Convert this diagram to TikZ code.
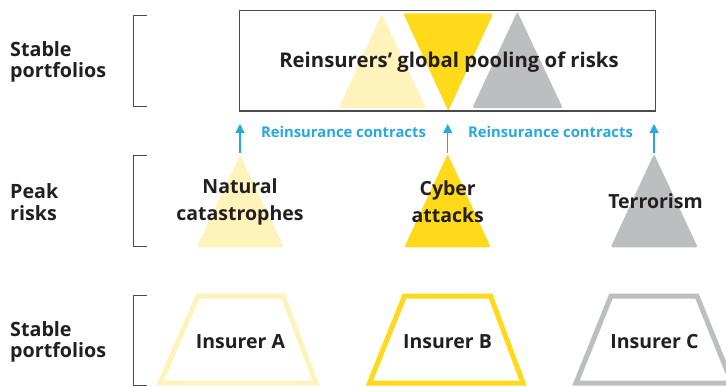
\documentclass[tikz,border=0pt]{standalone}
\usepackage{fontspec}
\setmainfont{Open Sans}
\usetikzlibrary{arrows.meta}
\definecolor{lyel}{HTML}{FFF3BC}
\definecolor{yel}{HTML}{FFDA1A}
\definecolor{gry}{HTML}{BDBEC0}
\definecolor{blu}{HTML}{29A8E0}
\definecolor{txt}{HTML}{231F20}
\definecolor{brk}{HTML}{4A4A4A}
\tikzset{
  lbl/.style={font=\fontsize{19.7}{21.6}\selectfont\bfseries, text=txt, align=left, anchor=west, inner sep=0pt},
  risk/.style={font=\fontsize{19.5}{26.7}\selectfont\bfseries, text=txt, align=center, inner sep=0pt},
  bluelbl/.style={font=\fontsize{14.8}{16}\selectfont\bfseries, text=blu, inner sep=0pt},
  bracket/.style={draw=brk, line width=1pt},
  tri/.style={rounded corners=2pt},
  trap/.style={line width=5pt, line join=miter, fill=white},
  arr/.style={draw=blu, line width=1.2pt, -{Triangle[width=9pt,length=9pt]}},
}
\begin{document}
\begin{tikzpicture}[x=1pt,y=-1pt]
\useasboundingbox (0,0) rectangle (726,386);
\fill[white] (0,0) rectangle (726,386);

% left labels
\node[lbl] (l1) at (10,62) {Stable\\portfolios};
\node[lbl] (l2) at (10,202) {Peak\\risks};
\node[lbl] (l3) at (10,342) {Stable\\portfolios};

% brackets
\draw[bracket] (146.7,15.7) -- (133.3,15.7) -- (133.3,106) -- (146.7,106);
\draw[bracket] (146.7,155.7) -- (133.3,155.7) -- (133.3,246) -- (146.7,246);
\draw[bracket] (146.7,295.5) -- (133.3,295.5) -- (133.3,385) -- (146.7,385);

% top box
\fill[white] (239.3,10.7) rectangle (655.7,111);
\fill[lyel, tri] (381.7,14) -- (426,108) -- (339,108) -- cycle;
\fill[yel, tri] (403.3,13.3) -- (493.3,13.3) -- (448.3,111) -- cycle;
\fill[gry, tri] (517.3,11.5) -- (562.7,108) -- (472.3,108) -- cycle;
\draw[brk, line width=1.1pt] (239.3,10.7) rectangle (655.7,111);
\node[font=\fontsize{20.3}{22}\selectfont\bfseries, text=txt, inner sep=0pt] (pool) at (449,62) {Reinsurers’ global pooling of risks};

% peak risk triangles
\fill[lyel, tri] (240,155) -- (284,247.3) -- (196.7,247.3) -- cycle;
\fill[yel, tri] (447.7,154) -- (490.7,247.3) -- (404.3,247.3) -- cycle;
\fill[gry, tri] (654,154) -- (697.7,247.3) -- (610.7,247.3) -- cycle;
\coordinate (ta) at (240,153);
\coordinate (tb) at (447.7,153);
\coordinate (tc) at (654,153);
\node[risk] (nat) at (240,202) {Natural\\catastrophes};
\node[risk] (cyb) at (447.7,202) {Cyber\\attacks};
\node[risk] (ter) at (655.5,201) {Terrorism};

% arrows
\coordinate (ua) at (240,124);
\coordinate (ub) at (447.7,124);
\coordinate (uc) at (654,124);
\draw[arr] (ta) -- (ua);
\draw[arr] (tb) -- (ub);
\draw[arr] (tc) -- (uc);
\node[bluelbl] (rc1) at (343.5,131.5) {Reinsurance contracts};
\node[bluelbl] (rc2) at (550.5,131.5) {Reinsurance contracts};

% insurers
\begin{scope}
\clip (0,0) rectangle (726,386);
\draw[trap, draw=lyel] (198,296) -- (283,296) -- (316,383) -- (160,383) -- cycle;
\draw[trap, draw=yel] (404.5,296) -- (490.5,296) -- (523,383) -- (369.5,383) -- cycle;
\draw[trap, draw=gry] (611,296) -- (697,296) -- (732,383) -- (576,383) -- cycle;
\end{scope}
\node[risk] (ia) at (240.5,342) {Insurer A};
\node[risk] (ib) at (447.5,342) {Insurer B};
\node[risk] (ic) at (654.5,342) {Insurer C};
\end{tikzpicture}
\end{document}
